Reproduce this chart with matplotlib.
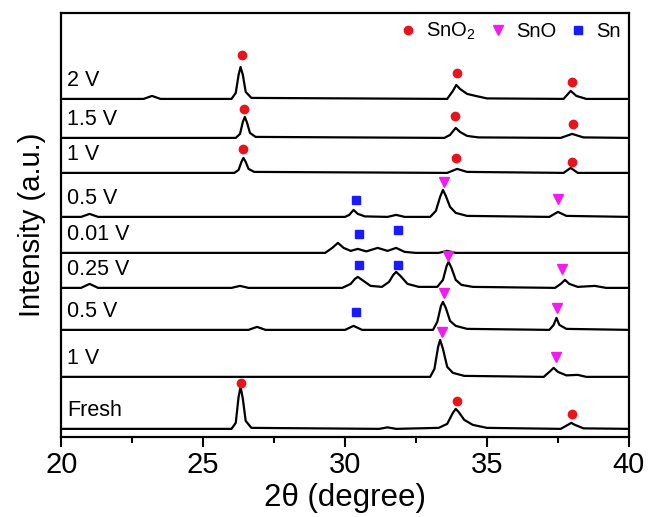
import matplotlib
matplotlib.use('Agg')
import matplotlib.pyplot as plt
from matplotlib.lines import Line2D

plt.rcParams['font.family'] = ['Liberation Sans', 'DejaVu Sans']
plt.rcParams['mathtext.default'] = 'regular'

# sample labels, bottom to top, and vertical offset of each baseline
labels = ['Fresh', '1 V', '0.5 V', '0.25 V', '0.01 V', '0.5 V', '1 V', '1.5 V', '2 V']
offsets = [8, 60, 107, 149, 184, 220, 264, 299, 338]

# traces (2theta, intensity above baseline)
x_fresh = [20, 26.0, 26.15, 26.25, 26.32, 26.4, 26.5, 26.7, 31.2, 31.5, 31.8, 33.3, 33.6, 33.8,
           33.9, 34.0, 34.2, 34.5, 35.0, 37.6, 37.85, 37.97, 38.1, 38.4, 40]
y_fresh = [0, 0, 6, 32, 42, 30, 8, 1, 0, 1.5, 0, 1, 5, 16, 20, 17, 9, 4, 1, 0, 4, 6, 4, 0.5, 0]

x_1v = [20, 33.0, 33.15, 33.28, 33.35, 33.45, 33.6, 33.8, 34.2, 37.0, 37.2, 37.35, 37.5, 37.8,
        38.2, 38.5, 40]
y_1v = [0, 0, 8, 30, 37, 28, 10, 4, 1, 0, 5, 9, 5, 1.5, 2, 0, 0]

x_05v = [20, 26.6, 26.9, 27.2, 30.0, 30.3, 30.6, 33.1, 33.25, 33.38, 33.45, 33.55, 33.7, 33.9,
         34.3, 37.2, 37.35, 37.45, 37.55, 37.8, 40]
y_05v = [0, 0, 3, 0, 0, 4, 0, 0, 8, 24, 28, 22, 9, 4, 1, 0, 5, 12, 5, 1, 0]

x_025v = [20, 20.7, 21.0, 21.3, 26.0, 26.3, 26.6, 29.9, 30.2, 30.35, 30.45, 30.6, 30.9, 31.3,
          31.55, 31.7, 31.8, 31.95, 32.2, 32.6, 33.25, 33.45, 33.58, 33.65, 33.75, 33.9, 34.1,
          34.5, 37.4, 37.6, 37.75, 37.9, 38.2, 38.8, 39.2, 40]
y_025v = [0, 0, 4, 0, 0, 2, 0, 0, 4, 9, 11, 8, 2, 1, 6, 13, 16, 12, 4, 1, 1, 8, 22, 26, 20, 8,
          3, 1, 0, 4, 8, 4, 1, 2, 0, 0]

x_001v = [20, 29.3, 29.55, 29.75, 29.95, 30.2, 30.45, 30.75, 31.15, 31.5, 31.8, 32.1, 32.5,
          33.3, 33.6, 33.9, 40]
y_001v = [0, 0, 5, 10, 5, 2, 4, 1.5, 5, 2, 5, 1, 0, 0, 2, 0, 0]

x_05v_b = [20, 20.7, 21.0, 21.3, 30.0, 30.15, 30.3, 30.45, 30.7, 31.5, 31.8, 32.1, 33.0, 33.2,
           33.35, 33.45, 33.55, 33.7, 33.9, 34.3, 37.2, 37.5, 37.8, 40]
y_05v_b = [0, 0, 3, 0, 0, 2, 7, 3, 0.5, 0, 2, 0, 0, 6, 20, 27, 21, 10, 4, 1, 0, 5, 1, 0]

x_1v_b = [20, 26.1, 26.25, 26.35, 26.42, 26.5, 26.6, 26.8, 33.6, 33.95, 34.3, 37.7, 37.95,
          38.2, 40]
y_1v_b = [0, 0, 3, 11, 15, 11, 4, 1, 0, 4, 1, 0, 5, 0, 0]

x_15v = [20, 26.15, 26.3, 26.4, 26.47, 26.55, 26.65, 26.85, 33.5, 33.7, 33.9, 34.05, 34.3,
         34.7, 37.6, 38.0, 38.4, 40]
y_15v = [0, 0, 4, 16, 21, 15, 5, 1, 0, 3, 10, 6, 2, 0.5, 0, 4, 0.5, 0]

x_2v = [20, 22.9, 23.2, 23.5, 26.0, 26.15, 26.25, 26.32, 26.4, 26.5, 26.7, 33.6, 33.8, 33.92,
        34.05, 34.3, 34.6, 35.0, 37.7, 37.95, 38.15, 38.5, 40]
y_2v = [0, 0, 3, 0, 0, 6, 24, 32, 24, 7, 1, 0, 8, 14, 10, 5, 3, 0.5, 0, 8, 3, 0, 0]

traces_x = [x_fresh, x_1v, x_05v, x_025v, x_001v, x_05v_b, x_1v_b, x_15v, x_2v]
traces_y = [y_fresh, y_1v, y_05v, y_025v, y_001v, y_05v_b, y_1v_b, y_15v, y_2v]

# phase markers
sno2_x = [26.37, 33.94, 38.0, 26.45, 33.88, 38.03, 26.4, 33.9, 38.0, 26.33, 33.94, 38.0]
sno2_y = [382, 364, 355, 328, 321, 313, 288, 279, 275, 54, 36, 23]
sno_x = [33.49, 37.5, 33.63, 37.64, 33.49, 37.46, 33.42, 37.43]
sno_y = [255, 238, 181, 168, 144, 129, 105, 80]
sn_x = [30.39, 30.5, 31.85, 30.5, 31.85, 30.39]
sn_y = [237, 203, 207, 172, 172, 125]

red = '#e8141c'
magenta = '#f01cf0'
blue = '#1a1aff'

fig = plt.figure(figsize=(6.51, 5.17), dpi=100)
ax = fig.add_axes([0.094, 0.155, 0.872, 0.82])

for xs, ys, off, lab in zip(traces_x, traces_y, offsets, labels):
    ax.plot(xs, [v + off for v in ys], color='black', lw=1.6)
    ax.text(20.22, off + 8, lab, fontsize=15.5, va='bottom', ha='left')

ax.plot(sno2_x, sno2_y, 'o', color=red, ms=6, ls='none')
ax.plot(sno_x, sno_y, 'v', color=magenta, ms=6.5, ls='none')
ax.plot(sn_x, sn_y, 's', color=blue, ms=5.5, ls='none')

handles = [Line2D([], [], marker='o', color=red, ls='none', ms=6),
           Line2D([], [], marker='v', color=magenta, ls='none', ms=6.5),
           Line2D([], [], marker='s', color=blue, ls='none', ms=5.5)]
ax.legend(handles, ['SnO$_2$', 'SnO', 'Sn'], loc='upper right', ncol=3, frameon=False,
          fontsize=14.5, handletextpad=0.3, columnspacing=0.5, handlelength=1.2,
          borderaxespad=0.0)

ax.set_xlim(20, 40)
ax.set_ylim(0, 424)
ax.set_xticks([20, 25, 30, 35, 40])
ax.set_xticks([22.5, 27.5, 32.5, 37.5], minor=True)
ax.set_yticks([])
ax.tick_params(axis='x', which='major', direction='out', length=7, width=1.5, labelsize=21, pad=3)
ax.tick_params(axis='x', which='minor', direction='out', length=4, width=1.5)
for sp in ax.spines.values():
    sp.set_linewidth(1.6)

ax.set_xlabel('2θ (degree)', fontsize=22.5, labelpad=3)
ax.set_ylabel('Intensity (a.u.)', fontsize=21, labelpad=11)

fig.savefig('out.png', dpi=100)
